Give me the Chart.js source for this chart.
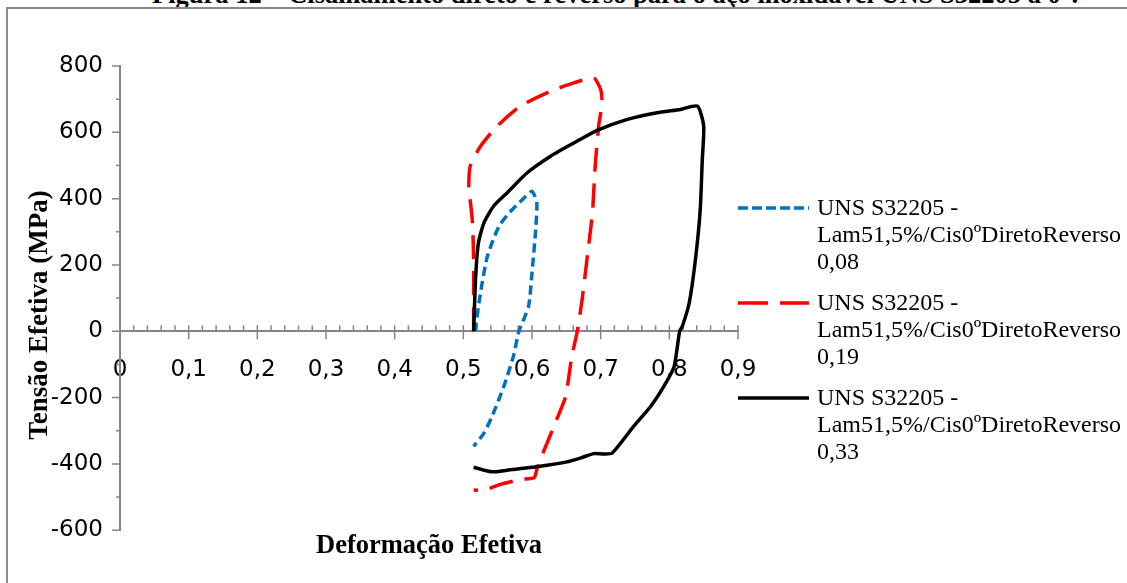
<!DOCTYPE html>
<html lang="pt">
<head>
<meta charset="utf-8">
<title>Cisalhamento direto e reverso - UNS S32205</title>
<script src="https://cdn.jsdelivr.net/npm/chart.js@4.4.1/dist/chart.umd.min.js"></script>
<style>
    html, body { margin: 0; padding: 0; background: #fff; overflow: hidden; }
    #wrap { position: relative; width: 1127px; height: 583px; overflow: hidden; }
    #legenda-fig {
        position: absolute; left: 152px; top: -19px; white-space: nowrap;
        font: bold 26.5px/26.5px "Liberation Serif", "Times New Roman", serif; color: #000;
    }
    #moldura {
        position: absolute; left: 6px; top: 7px; width: 1300px; height: 800px;
        border: 2px solid #8a8a8a;
    }
    #grafico { position: absolute; left: 0; top: 0; }
</style>
</head>
<body>
<div id="wrap">
    <div id="legenda-fig">Figura 12 – Cisalhamento direto e reverso para o aço inoxidável UNS S32205 a 0°.</div>
    <div id="moldura"></div>
    <canvas id="grafico" width="1127" height="583"></canvas>
</div>
<script>
// valores: deformação efetiva (x) e tensão efetiva em MPa (y)

const strain008 = [0.517, 0.525, 0.535, 0.552, 0.569, 0.586, 0.600, 0.607, 0.605, 0.600, 0.595, 0.581, 0.573, 0.559, 0.542, 0.530, 0.515];
const stress008 = [0, 116, 226, 317, 362, 397, 422, 387, 297, 176, 75, 0, -75, -166, -256, -307, -347];

const strain019 = [0.515, 0.515, 0.513, 0.508, 0.510, 0.525, 0.549, 0.583, 0.627, 0.661, 0.690, 0.700, 0.702, 0.697, 0.692, 0.688, 0.680, 0.673, 0.666, 0.658, 0.649, 0.634, 0.622, 0.612, 0.607, 0.603, 0.583, 0.554, 0.530, 0.515];
const stress019 = [0, 216, 337, 437, 498, 558, 618, 679, 724, 749, 764, 729, 689, 618, 498, 357, 216, 96, 0, -75, -196, -276, -337, -387, -417, -442, -447, -462, -479, -479];

const strain033 = [0.515, 0.518, 0.522, 0.530, 0.544, 0.564, 0.593, 0.627, 0.661, 0.695, 0.739, 0.782, 0.816, 0.841, 0.850, 0.848, 0.845, 0.838, 0.829, 0.819, 0.815, 0.807, 0.792, 0.773, 0.748, 0.717, 0.705, 0.690, 0.671, 0.651, 0.612, 0.564, 0.542, 0.515];
const stress033 = [0, 166, 267, 327, 377, 418, 478, 528, 568, 606, 639, 659, 669, 679, 619, 518, 367, 216, 86, 15, 0, -106, -166, -226, -287, -367, -370, -369, -382, -394, -407, -419, -424, -410];

const seriesNames = [
    ["UNS S32205 -", "Lam51,5%/Cis0ºDiretoReverso", "0,08"],
    ["UNS S32205 -", "Lam51,5%/Cis0ºDiretoReverso", "0,19"],
    ["UNS S32205 -", "Lam51,5%/Cis0ºDiretoReverso", "0,33"]
];

const xTickValues = [0, 0.1, 0.2, 0.3, 0.4, 0.5, 0.6, 0.7, 0.8, 0.9];
const xTickLabels = ["0", "0,1", "0,2", "0,3", "0,4", "0,5", "0,6", "0,7", "0,8", "0,9"];
const yTickValues = [-600, -400, -200, 0, 200, 400, 600, 800];
const yTitleText = "Tensão Efetiva (MPa)";

const axisGray = "#868686";
const tickFont = { family: '"DejaVu Sans", sans-serif', size: 23 };
const titleFont = { family: '"Liberation Serif", "Times New Roman", serif', size: 26.5, weight: "bold" };

function toPoints(xs, ys) {
    return xs.map((x, i) => ({ x: x, y: ys[i] }));
}

// marcas principais e secundárias dos eixos (estilo Excel)
const axisMarks = {
    id: "axisMarks",
    beforeDatasetsDraw(chart) {
        const { ctx, scales: { x, y } } = chart;
        const y0 = y.getPixelForValue(0);
        const xl = x.getPixelForValue(0);
        ctx.save();
        ctx.strokeStyle = axisGray;
        ctx.lineWidth = 1.5;
        ctx.beginPath();
        for (let v = -500; v < 800; v += 200) {
            const py = y.getPixelForValue(v);
            ctx.moveTo(xl - 4, py); ctx.lineTo(xl, py);
        }
        yTickValues.forEach(v => {
            const py = y.getPixelForValue(v);
            ctx.moveTo(xl - 8, py); ctx.lineTo(xl, py);
        });
        for (let k = 1; k < 45; k++) {
            if (k % 5 === 0) continue;
            const px = x.getPixelForValue(k * 0.02);
            ctx.moveTo(px, y0 - 6); ctx.lineTo(px, y0);
        }
        xTickValues.forEach(v => {
            const px = x.getPixelForValue(v);
            ctx.moveTo(px, y0 - 6); ctx.lineTo(px, y0 + 8);
        });
        ctx.stroke();

        // título do eixo y (um pouco abaixo do centro, como no original)
        ctx.fillStyle = "#000";
        ctx.font = 'bold 27px "Liberation Serif", "Times New Roman", serif';
        ctx.textAlign = "center";
        ctx.textBaseline = "middle";
        ctx.translate(40, (chart.chartArea.top + chart.chartArea.bottom) / 2 + 17);
        ctx.rotate(-Math.PI / 2);
        ctx.fillText(yTitleText, 0, 0);
        ctx.restore();
    }
};

// legenda à direita com texto em várias linhas
const sideLegend = {
    id: "sideLegend",
    afterDraw(chart) {
        const { ctx, chartArea } = chart;
        const lx = chartArea.right;
        ctx.save();
        ctx.font = '24px "Liberation Serif", "Times New Roman", serif';
        ctx.textBaseline = "middle";
        ctx.textAlign = "left";
        chart.data.datasets.forEach((ds, i) => {
            const top = chartArea.top + 142 + i * 95;
            ctx.strokeStyle = ds.borderColor;
            ctx.lineWidth = ds.borderWidth;
            ctx.setLineDash(ds.legendDash || ds.borderDash || []);
            ctx.beginPath();
            ctx.moveTo(lx, top);
            ctx.lineTo(lx + 71, top);
            ctx.stroke();
            ctx.setLineDash([]);
            ctx.fillStyle = "#000";
            seriesNames[i].forEach((line, j) => ctx.fillText(line, lx + 79, top + 1 + j * 27));
        });
        ctx.restore();
    }
};

const ctx = document.getElementById("grafico").getContext("2d");
new Chart(ctx, {
    type: "scatter",
    data: {
        datasets: [
            { label: seriesNames[0].join(" "), data: toPoints(strain008, stress008), showLine: true, borderColor: "#0070C0", borderWidth: 3.5, borderDash: [9, 5], legendDash: [10, 4], pointRadius: 0, tension: 0.2, order: 3 },
            { label: seriesNames[1].join(" "), data: toPoints(strain019, stress019), showLine: true, borderColor: "#FF0000", borderWidth: 3.5, borderDash: [24, 12], legendDash: [30, 12], pointRadius: 0, tension: 0.2, order: 2 },
            { label: seriesNames[2].join(" "), data: toPoints(strain033, stress033), showLine: true, borderColor: "#000000", borderWidth: 3.5, pointRadius: 0, tension: 0.2, order: 1 }
        ]
    },
    options: {
        responsive: false,
        animation: false,
        layout: { padding: { top: 66, right: 389, bottom: 13, left: 0 } },
        plugins: {
            legend: { display: false },
            tooltip: { enabled: false }
        },
        scales: {
            x: {
                type: "linear",
                position: { y: 0 },
                min: 0, max: 0.9,
                afterBuildTicks: s => { s.ticks = xTickValues.map(v => ({ value: v })); },
                ticks: { font: tickFont, color: "#000", padding: 25, autoSkip: false, maxRotation: 0, callback: (v, i) => xTickLabels[i] },
                grid: { display: false, drawTicks: false },
                border: { color: axisGray, width: 2 }
            },
            xTitle: {
                type: "linear",
                axis: "x",
                position: "bottom",
                min: 0, max: 0.9,
                ticks: { display: false },
                grid: { display: false, drawTicks: false },
                border: { display: false },
                title: { display: true, text: "Deformação Efetiva", font: titleFont, color: "#000", padding: { top: 0, bottom: 8 } }
            },
            y: {
                min: -600, max: 800,
                afterBuildTicks: s => { s.ticks = yTickValues.map(v => ({ value: v })); },
                afterFit: s => { s.width = 120; },
                ticks: { font: tickFont, color: "#000", padding: 17, callback: v => String(v) },
                grid: { display: false, drawTicks: false },
                border: { color: axisGray, width: 2 }
            }
        }
    },
    plugins: [axisMarks, sideLegend]
});
</script>
</body>
</html>
